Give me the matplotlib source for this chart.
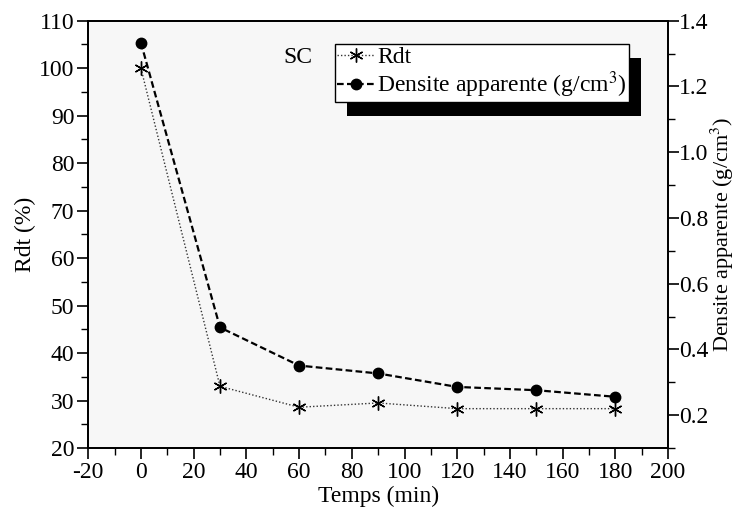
import matplotlib

matplotlib.use("Agg")
import matplotlib.pyplot as plt
from matplotlib.patches import Rectangle
from matplotlib.ticker import MultipleLocator

plt.rcParams["font.family"] = ["Liberation Serif", "DejaVu Serif"]
plt.rcParams["mathtext.fontset"] = "stix"
plt.rcParams["axes.unicode_minus"] = False

# Données
temps = [0, 30, 60, 90, 120, 150, 180]
rdt = [100, 33, 28.6, 29.5, 28.3, 28.3, 28.3]
densite = [1.333, 0.467, 0.351, 0.327, 0.286, 0.276, 0.256]

fig = plt.figure(figsize=(7.35, 5.18), dpi=100)
ax = fig.add_axes([0.12, 0.135, 0.789, 0.825])
ax.set_facecolor("#f7f7f7")
ax2 = ax.twinx()

(l1,) = ax.plot(temps, rdt, color="#333333", linestyle=(0, (1, 1.5)), linewidth=1.0,
                marker=(6, 2, 0), markersize=10, markeredgewidth=1.0,
                markeredgecolor="black", label="Rdt")
(l2,) = ax2.plot(temps, densite, color="black", linestyle=(0, (3, 1.5)), linewidth=1.6,
                 marker="o", markersize=7.5, label="Densite apparente (g/cm$^3$)")

ax.set_xlim(-20, 200)
ax.set_ylim(20, 110)
ax2.set_ylim(0.1, 1.4)

ax.xaxis.set_major_locator(MultipleLocator(20))
ax.xaxis.set_minor_locator(MultipleLocator(10))
ax.yaxis.set_major_locator(MultipleLocator(10))
ax.yaxis.set_minor_locator(MultipleLocator(5))
ax2.yaxis.set_minor_locator(MultipleLocator(0.1))
ax2.set_yticks([0.2, 0.4, 0.6, 0.8, 1.0, 1.2, 1.4])
ax2.set_yticklabels(["0.2", "0.4", "0.6", "0.8", "1.0", "1.2", "1.4"])

for a in (ax, ax2):
    a.tick_params(which="major", direction="out", length=8, width=1.2, labelsize=17, pad=2)
    a.tick_params(which="minor", direction="out", length=5, width=1.0)
    for s in a.spines.values():
        s.set_linewidth(1.3)
ax.tick_params(axis="x", which="both", top=False)
ax2.tick_params(which="major", pad=0)

ax.set_xlabel("Temps (min)", fontsize=17, labelpad=2)
ax.set_ylabel("Rdt (%)", fontsize=17, labelpad=2)
ax2.set_ylabel("Densite apparente (g/cm$^3$)", fontsize=16, labelpad=0)

ax2.text(0.362, 0.915, "SC", transform=ax.transAxes, fontsize=17,
         ha="center", va="center")

leg = ax2.legend(handles=[l1, l2], loc="upper left", bbox_to_anchor=(0.425, 0.945),
                 fontsize=17, frameon=True, fancybox=False, edgecolor="black",
                 framealpha=1, handlelength=1.6, handletextpad=0.1, borderpad=0.1,
                 labelspacing=0.05, borderaxespad=0)
leg.get_frame().set_linewidth(1.0)
leg.get_frame().set_facecolor("white")
leg.set_zorder(10)

# ombre noire décalée derrière la légende
fig.canvas.draw()
bb = leg.get_window_extent().transformed(fig.transFigure.inverted())
shadow = Rectangle((bb.x0 + 12 / 735, bb.y0 - 14 / 518), bb.width, bb.height,
                   transform=fig.transFigure, facecolor="black", edgecolor="none",
                   zorder=9)
ax2.add_artist(shadow)

fig.savefig("out.png", dpi=100)
